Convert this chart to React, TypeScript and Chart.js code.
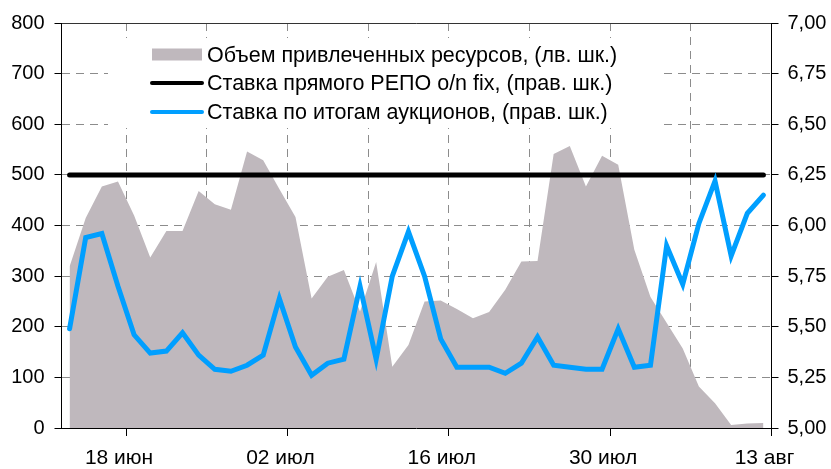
import React, { useEffect, useRef } from 'react';
import { Chart, registerables } from 'chart.js';

Chart.register(...registerables);

// Business days (2012), one point per day
const categories = [
  '12.06', '13.06', '14.06', '15.06', '18.06', '19.06', '20.06', '21.06', '22.06', '25.06',
  '26.06', '27.06', '28.06', '29.06', '02.07', '03.07', '04.07', '05.07', '06.07', '09.07',
  '10.07', '11.07', '12.07', '13.07', '16.07', '17.07', '18.07', '19.07', '20.07', '23.07',
  '24.07', '25.07', '26.07', '27.07', '30.07', '31.07', '01.08', '02.08', '03.08', '06.08',
  '07.08', '08.08', '09.08', '10.08',
];

// Объем привлеченных ресурсов (left axis)
const volume = [
  319, 415, 477, 487, 420, 337, 389, 389, 468, 442,
  431, 546, 529, 472, 417, 256, 299, 312, 230, 328,
  121, 164, 250, 252, 235, 217, 229, 273, 329, 330,
  541, 557, 477, 538, 520, 352, 259, 208, 157, 82,
  49, 6, 9, 10,
];

// Ставка прямого РЕПО o/n fix (right axis)
const repoRate = [
  6.25, 6.25, 6.25, 6.25, 6.25, 6.25, 6.25, 6.25, 6.25, 6.25,
  6.25, 6.25, 6.25, 6.25, 6.25, 6.25, 6.25, 6.25, 6.25, 6.25,
  6.25, 6.25, 6.25, 6.25, 6.25, 6.25, 6.25, 6.25, 6.25, 6.25,
  6.25, 6.25, 6.25, 6.25, 6.25, 6.25, 6.25, 6.25, 6.25, 6.25,
  6.25, 6.25, 6.25, 6.25,
];

// Ставка по итогам аукционов (right axis)
const auctionRate = [
  5.49, 5.94, 5.96, 5.70, 5.46, 5.37, 5.38, 5.47, 5.36, 5.29,
  5.28, 5.31, 5.36, 5.64, 5.40, 5.26, 5.32, 5.34, 5.70, 5.34,
  5.75, 5.97, 5.75, 5.44, 5.30, 5.30, 5.30, 5.27, 5.32, 5.45,
  5.31, 5.30, 5.29, 5.29, 5.49, 5.30, 5.31, 5.90, 5.71, 6.01,
  6.22, 5.85, 6.06, 6.15,
];

// x-axis: labels sit on category boundaries
const tickLabels = ['18 июн', '02 июл', '16 июл', '30 июл', '13 авг'];
const tickBoundaries = [4, 14, 24, 34, 44];
const gridBoundaries = [4, 9, 14, 19, 24, 29, 34, 39, 44];

const seriesNames = [
  'Объем привлеченных ресурсов, (лв. шк.)',
  'Ставка прямого РЕПО o/n fix, (прав. шк.)',
  'Ставка по итогам аукционов, (прав. шк.)',
];

const AREA = '#bfb8bd';
const BLUE = '#009fff';
const FONT = '"Liberation Sans", Arial, sans-serif';

export default function App() {
  const ref = useRef<HTMLCanvasElement>(null);

  useEffect(() => {
    document.body.style.margin = '0';
    const canvas = ref.current!;
    const pts = (arr: number[]) => arr.map((v, i) => ({ x: i + 0.5, y: v, d: categories[i] }));

    const legendPlugin = {
      id: 'insideLegend',
      afterDraw(chart: any) {
        const c = chart.ctx as CanvasRenderingContext2D;
        c.save();
        c.fillStyle = '#ffffff';
        c.fillRect(108, 38, 552, 90);
        const sx = 152;
        const sw = 50;
        const rows = [54.5, 83, 112];
        // area swatch
        c.fillStyle = AREA;
        c.fillRect(sx, rows[0] - 6, sw, 12);
        // black line
        c.lineCap = 'round';
        c.lineWidth = 4;
        c.strokeStyle = '#000';
        c.beginPath();
        c.moveTo(sx, rows[1]);
        c.lineTo(sx + sw, rows[1]);
        c.stroke();
        c.strokeStyle = BLUE;
        c.beginPath();
        c.moveTo(sx, rows[2]);
        c.lineTo(sx + sw, rows[2]);
        c.stroke();
        c.fillStyle = '#000';
        c.font = `21.5px ${FONT}`;
        c.textBaseline = 'middle';
        c.textAlign = 'left';
        seriesNames.forEach((n, i) => c.fillText(n, 207, rows[i] + 1.5));
        c.restore();
      },
    };

    const chart = new Chart(canvas, {
      type: 'line',
      data: {
        datasets: [
          {
            label: seriesNames[2],
            data: pts(auctionRate),
            yAxisID: 'y2',
            borderColor: BLUE,
            borderWidth: 5,
            borderCapStyle: 'round',
            pointRadius: 0,
            tension: 0,
            fill: false,
            order: 1,
          },
          {
            label: seriesNames[1],
            data: pts(repoRate),
            yAxisID: 'y2',
            borderColor: '#000',
            borderWidth: 5,
            borderCapStyle: 'round',
            pointRadius: 0,
            tension: 0,
            fill: false,
            order: 2,
          },
          {
            label: seriesNames[0],
            data: pts(volume),
            yAxisID: 'y',
            borderWidth: 0,
            borderColor: AREA,
            backgroundColor: AREA,
            pointRadius: 0,
            tension: 0,
            fill: 'origin',
            order: 3,
          },
        ],
      },
      options: {
        animation: false,
        responsive: false,
        layout: { padding: { top: 23, left: 0, right: 0, bottom: 0 } },
        plugins: { legend: { display: false }, tooltip: { enabled: false } },
        scales: {
          x: {
            type: 'linear',
            min: 0,
            max: 44,
            afterFit: (s: any) => { s.height = 41; },
            afterBuildTicks: (s: any) => { s.ticks = gridBoundaries.map((v) => ({ value: v })); },
            ticks: {
              autoSkip: false,
              maxRotation: 0,
              padding: 10,
              labelOffset: -7,
              color: '#000',
              font: { family: FONT, size: 21 },
              callback: (v: any) => {
                const k = tickBoundaries.indexOf(Number(v));
                return k >= 0 ? tickLabels[k] : '';
              },
            },
            grid: {
              color: (ctx: any) => (ctx.tick && ctx.tick.value === 44 ? 'rgba(0,0,0,0)' : '#8c8c8c'),
              lineWidth: 1,
              tickLength: 8,
              tickColor: (ctx: any) => (ctx.tick && tickBoundaries.includes(ctx.tick.value) ? '#000' : 'rgba(0,0,0,0)'),
            },
            border: { display: true, color: '#000', width: 1, dash: [8, 6] },
          },
          y: {
            position: 'left',
            min: 0,
            max: 800,
            afterFit: (s: any) => { s.width = 61.5; },
            ticks: {
              stepSize: 100,
              padding: 10,
              color: '#000',
              font: { family: FONT, size: 20 },
            },
            grid: {
              color: (ctx: any) => {
                const v = ctx.tick ? ctx.tick.value : -1;
                if (v === 0) return 'rgba(0,0,0,0)';
                if (v === 800) return '#333';
                return '#8c8c8c';
              },
              lineWidth: 1,
              tickLength: 7,
              tickColor: '#000',
            },
            border: {
              display: true,
              color: '#000',
              width: 1,
              dash: (ctx: any) => (ctx.tick && ctx.tick.value === 800 ? [] : [8, 6]),
            },
          },
          y2: {
            position: 'right',
            min: 5,
            max: 7,
            afterFit: (s: any) => { s.width = 59.5; },
            ticks: {
              stepSize: 0.25,
              padding: 9,
              color: '#000',
              font: { family: FONT, size: 20 },
              callback: (v: any) => Number(v).toFixed(2).replace('.', ','),
            },
            grid: {
              drawOnChartArea: false,
              tickLength: 7,
              tickColor: '#000',
            },
            border: { display: true, color: '#000', width: 1 },
          },
        },
      },
      plugins: [legendPlugin],
    } as any);

    return () => chart.destroy();
  }, []);

  return (
    <div style={{ width: 831, height: 469 }}>
      <canvas ref={ref} width={831} height={469} style={{ display: 'block' }} />
    </div>
  );
}
